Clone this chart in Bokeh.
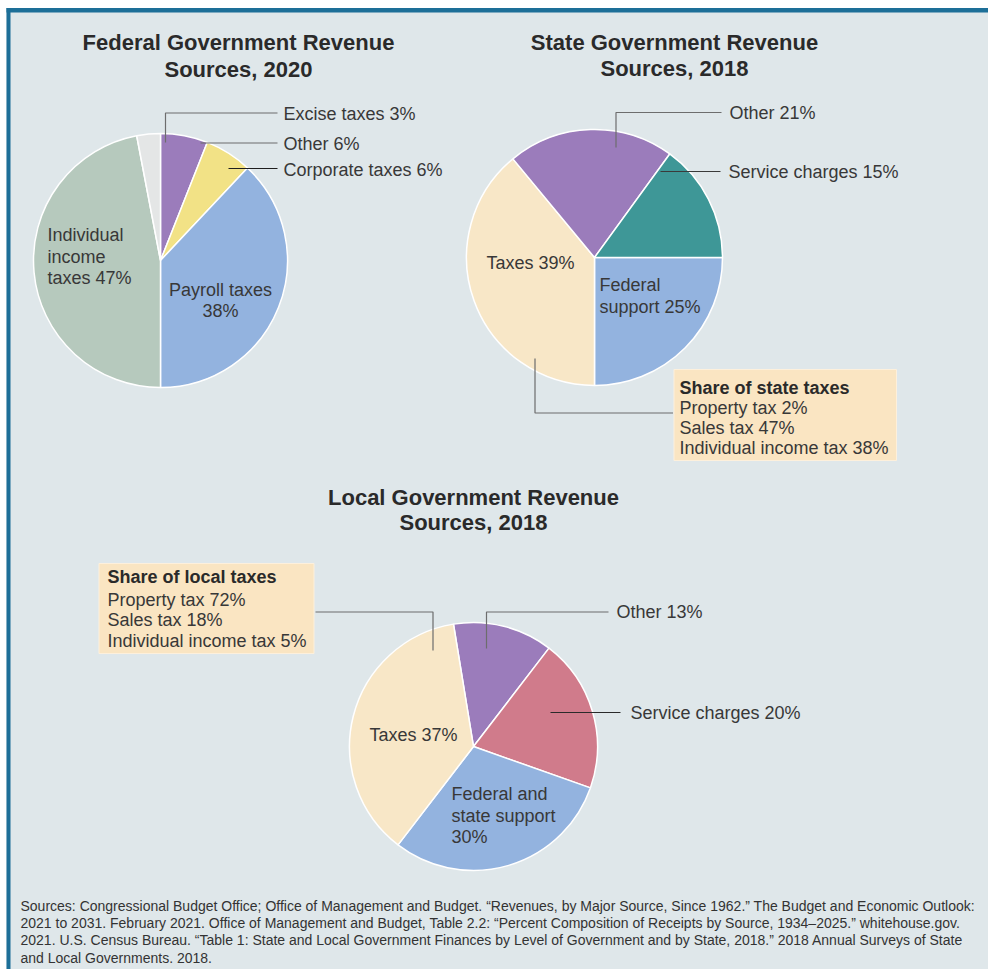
import numpy as np
from bokeh.plotting import figure
from bokeh.models import Range1d, ColumnDataSource
from bokeh.core.properties import value
from bokeh.embed import file_html
from bokeh.resources import INLINE

# ---------------- data ----------------
# Federal (clockwise from 12 o'clock)
fed_names = ["Other", "Corporate taxes", "Payroll taxes", "Individual income taxes", "Excise taxes"]
fed_values = [6, 6, 38, 47, 3]
fed_colors = ["#9b7cbb", "#f2e286", "#93b3df", "#b6c9bd", "#e4e6e6"]

# State (clockwise from 3 o'clock)
state_names = ["Federal support", "Taxes", "Other", "Service charges"]
state_values = [25, 39, 21, 15]
state_colors = ["#93b3df", "#f8e7c7", "#9b7cbb", "#3e9797"]

# Local (clockwise from just left of 12 o'clock)
local_names = ["Other", "Service charges", "Federal and state support", "Taxes"]
local_values = [13, 20, 30, 37]
local_colors = ["#9b7cbb", "#d07b8b", "#93b3df", "#f8e7c7"]

tax_kinds = ["Property tax", "Sales tax", "Individual income tax"]
state_tax_shares = [2, 47, 38]
local_tax_shares = [72, 18, 5]

sources = [
    "Sources: Congressional Budget Office; Office of Management and Budget. \u201cRevenues, by Major Source, Since 1962.\u201d The Budget and Economic Outlook:",
    "2021 to 2031. February 2021. Office of Management and Budget, Table 2.2: \u201cPercent Composition of Receipts by Source, 1934\u20132025.\u201d whitehouse.gov.",
    "2021. U.S. Census Bureau. \u201cTable 1: State and Local Government Finances by Level of Government and by State, 2018.\u201d 2018 Annual Surveys of State",
    "and Local Governments. 2018.",
]

# ---------------- figure ----------------
BG = "#dfe7ea"
FONT = "Liberation Sans"
TXT = "#383838"
LBL = "18px"
TTL = "22px"
W, H = 988, 969
p = figure(width=W, height=H, x_range=Range1d(0, 988), y_range=Range1d(-969, 0),
           output_backend="svg", toolbar_location=None, min_border=0,
           background_fill_color="white", border_fill_color="white", outline_line_color=None)
p.axis.visible = False
p.grid.visible = False

# panel background and frame border (top and left)
p.quad(left=[6], right=[988], top=[-7.5], bottom=[-969], fill_color=BG, line_color=None)
p.segment(x0=[6], y0=[-9.8], x1=[988], y1=[-9.8], line_color="#1d6f98", line_width=4.5)
p.segment(x0=[8], y0=[-7.5], x1=[8], y1=[-969], line_color="#1d6f98", line_width=4)


def pie(cx, cy, r, vals, colors, start_deg):
    frac = np.array(vals, dtype=float) / sum(vals)
    cum = np.concatenate([[0.0], np.cumsum(frac)])
    a0 = np.deg2rad(start_deg)
    src = ColumnDataSource(dict(start=a0 - 2 * np.pi * cum[1:], end=a0 - 2 * np.pi * cum[:-1], color=colors))
    p.wedge(x=cx, y=-cy, radius=r, start_angle="start", end_angle="end", fill_color="color",
            line_color="white", line_width=1.5, source=src)


def txt(x, y, s, size=LBL, align="left", bold=False, color=TXT):
    p.text(x=[x], y=[-y], text=[s], text_font=value(FONT), text_font_size=size,
           text_align=align, text_baseline="middle", text_color=color,
           text_font_style="bold" if bold else "normal")


def leader(xs, ys, color="#6d6d6d"):
    p.line(x=xs, y=[-v for v in ys], line_color=color, line_width=1.2)


# ---------------- Federal ----------------
pie(160, 260, 127, fed_values, fed_colors, 90)
txt(238, 42, "Federal Government Revenue", size=TTL, align="center", bold=True, color="#2a2a2a")
txt(238, 69, "Sources, 2020", size=TTL, align="center", bold=True, color="#2a2a2a")
leader([165, 165, 277], [142, 112.5, 112.5])
leader([200, 277], [142.5, 142.5])
leader([228, 277], [168, 168], color="#1e1e1e")
txt(283, 113, f"{fed_names[4].capitalize()} {fed_values[4]}%")
txt(283, 143, f"{fed_names[0]} {fed_values[0]}%")
txt(283, 169, f"{fed_names[1]} {fed_values[1]}%")
txt(47, 234, "Individual")
txt(47, 256, "income")
txt(47, 277, f"taxes {fed_values[3]}%")
txt(220, 289, "Payroll taxes", align="center")
txt(220, 310, f"{fed_values[2]}%", align="center")

# ---------------- State ----------------
pie(594, 257, 128, state_values, state_colors, 0)
txt(674, 42, "State Government Revenue", size=TTL, align="center", bold=True, color="#2a2a2a")
txt(674, 68, "Sources, 2018", size=TTL, align="center", bold=True, color="#2a2a2a")
leader([615.5, 615.5, 721], [147, 112, 112])
leader([660, 720], [171, 171], color="#3a3a3a")
txt(729, 112, f"{state_names[2]} {state_values[2]}%")
txt(728, 171, f"{state_names[3]} {state_values[3]}%")
txt(530, 262, f"{state_names[1]} {state_values[1]}%", align="center")
txt(599, 284, "Federal")
txt(599, 306, f"support {state_values[0]}%")
p.quad(left=[673.5], right=[896], top=[-369], bottom=[-460], fill_color="#fae5c2", line_color="#fdf0dc", line_width=1)
leader([534.5, 534.5, 672.5], [358, 412.5, 412.5])
txt(679, 387, "Share of state taxes", bold=True, color="#2a2a2a")
for i, (k, v) in enumerate(zip(tax_kinds, state_tax_shares)):
    txt(679, 407 + 20 * i, f"{k} {v}%")

# ---------------- Local ----------------
pie(473, 746, 124, local_values, local_colors, 99.3)
txt(473, 497, "Local Government Revenue", size=TTL, align="center", bold=True, color="#2a2a2a")
txt(473, 522, "Sources, 2018", size=TTL, align="center", bold=True, color="#2a2a2a")
leader([486, 486, 608], [648, 611.5, 611.5])
leader([550, 620], [712, 712], color="#2a2a2a")
txt(616, 611, f"{local_names[0]} {local_values[0]}%")
txt(630, 712, f"{local_names[1]} {local_values[1]}%")
txt(413, 734, f"{local_names[3]} {local_values[3]}%", align="center")
txt(451, 793, "Federal and")
txt(451, 815, "state support")
txt(451, 836, f"{local_values[2]}%")
p.quad(left=[98.5], right=[313.5], top=[-563], bottom=[-653], fill_color="#fae5c2", line_color="#fdf0dc", line_width=1)
leader([315, 432.5, 432.5], [611.5, 611.5, 650])
txt(107, 576, "Share of local taxes", bold=True, color="#2a2a2a")
for i, (k, v) in enumerate(zip(tax_kinds, local_tax_shares)):
    txt(107, 599 + 20.5 * i, f"{k} {v}%")

# ---------------- Sources ----------------
for i, s in enumerate(sources):
    txt(20, 905 + 17.4 * i, s, size="14px", color="#333333")

open("out.html", "w").write(file_html(p, INLINE))
